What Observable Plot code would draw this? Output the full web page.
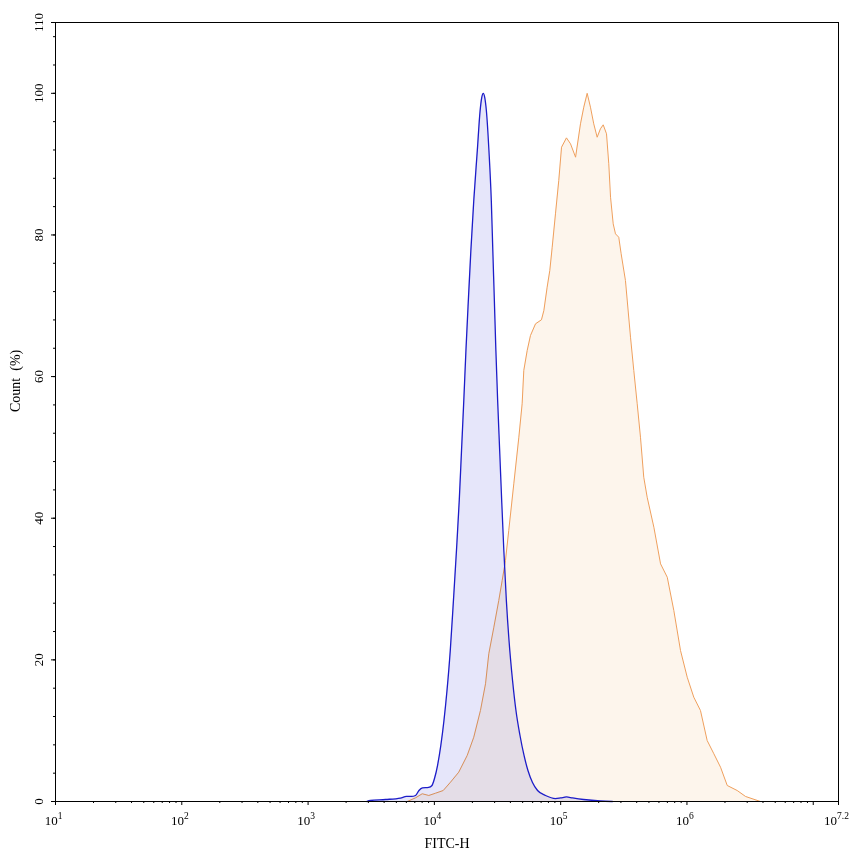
<!DOCTYPE html>
<html><head><meta charset="utf-8">
<script src="https://cdn.jsdelivr.net/npm/d3@7"></script>
<script src="https://cdn.jsdelivr.net/npm/@observablehq/plot@0.6"></script>
<style>body{margin:0;background:#fff}</style>
</head><body><div id="chart"></div>
<script>
// log10(FITC-H) positions and Count (%) for the two histograms
const blueExp = [3.463,3.494,3.613,3.732,3.779,3.819,3.851,3.878,3.906,3.954,3.981,4.001,4.025,4.051,4.076,4.100,4.126,4.151,4.175,4.197,4.215,4.233,4.250,4.269,4.289,4.312,4.340,4.362,4.375,4.387,4.399,4.412,4.432,4.451,4.463,4.475,4.487,4.501,4.517,4.533,4.550,4.570,4.591,4.619,4.646,4.678,4.710,4.741,4.777,4.817,4.880,4.959,4.999,5.046,5.094,5.181,5.315,5.41];
const blueCount = [0,0.14,0.28,0.49,0.71,0.71,0.85,1.55,1.91,1.98,2.26,3.25,5.08,7.91,11.44,15.67,21.32,28.38,35.44,42.5,49.56,56.62,63.68,70.74,77.8,84.86,91.92,97.5,99.4,100,99.4,97.5,91.92,84.72,77.66,70.74,63.68,56.62,49.56,42.5,35.44,28.38,22.73,17.09,12.85,9.32,6.5,4.38,2.68,1.55,0.85,0.42,0.5,0.64,0.5,0.28,0.07,0];
const orangeExp = [3.785,3.851,3.904,3.956,4.009,4.070,4.128,4.193,4.260,4.312,4.365,4.405,4.431,4.471,4.510,4.537,4.563,4.589,4.629,4.669,4.695,4.708,4.735,4.761,4.801,4.848,4.867,4.893,4.914,4.933,4.959,4.985,5.007,5.046,5.078,5.118,5.157,5.183,5.210,5.236,5.262,5.289,5.315,5.337,5.363,5.381,5.395,5.416,5.434,5.460,5.479,5.513,5.553,5.579,5.606,5.632,5.658,5.685,5.738,5.791,5.844,5.896,5.949,6.002,6.054,6.107,6.160,6.213,6.266,6.319,6.398,6.464,6.582];
const orangeCount = [0,0.52,1.09,0.85,1.17,1.55,2.73,4.14,6.5,9.08,12.85,16.62,20.86,24.61,28.38,31.21,34.03,38.27,44.86,51.44,56.16,60.86,63.68,65.8,67.45,68.02,69.33,72.62,74.98,78.27,82.98,87.69,92.39,93.71,92.87,90.98,95.69,98.04,100,98.04,95.69,93.8,94.99,95.55,94.28,90.05,85.33,81.57,80.16,79.68,77.34,73.57,65.56,60.86,56.16,51.44,45.79,42.97,38.73,33.56,31.67,26.97,21.32,17.55,14.73,12.85,8.61,6.74,4.84,2.26,1.55,0.71,0];

const xLabelExps = ["1","2","3","4","5","6","7.2"];
const xMajorExps = [1,2,3,4,5,6,7,7.2];
const xMinorMultipliers = [2,3,4,5,6,7,8,9];
const xMinorDecades = [1,2,3,4,5,6];
const yMajor = [0,20,40,60,80,100,110];
const yMinor = [0,4,8,12,16,20,24,28,32,36,40,44,48,52,56,60,64,68,72,76,80,84,88,92,96,100,104,108];
const xTitle = "FITC-H";
const yTitle = "Count\u00a0 (%)";

const blue = blueExp.map((e, i) => ({x: 10 ** e, y: blueCount[i]}));
const orange = orangeExp.map((e, i) => ({x: 10 ** e, y: orangeCount[i]}));
const xMajor = xMajorExps.map(e => 10 ** e);
const xMinor = xMinorDecades.flatMap(d => xMinorMultipliers.map(m => m * 10 ** d));

const font = "'Liberation Serif','Times New Roman',serif";

const svg = Plot.plot({
  width: 853, height: 856,
  marginLeft: 55, marginRight: 15, marginTop: 22, marginBottom: 55,
  style: {fontFamily: font, fontSize: "13px", color: "black", background: "white"},
  x: {type: "log", domain: [10, 10 ** 7.2]},
  y: {domain: [0, 110]},
  marks: [
    Plot.areaY(orange, {x: "x", y: "y", fill: "#fdf5ec"}),
    Plot.line(orange, {x: "x", y: "y", stroke: "#ef9f5c", strokeWidth: 1}),
    Plot.areaY(blue, {x: "x", y: "y", fill: "#e6e6fa", curve: "monotone-x", mixBlendMode: "multiply"}),
    Plot.line(blue, {x: "x", y: "y", stroke: "#1c1cc8", strokeWidth: 1.3, curve: "monotone-x"}),
    Plot.frame({stroke: "black"}),
    Plot.axisX(xMajor, {tickSize: 4, tickFormat: () => "", stroke: "black", label: null}),
    Plot.axisX(xMinor, {tickSize: 2, tickFormat: () => "", stroke: "black", label: null}),
    Plot.axisY(yMajor, {tickSize: 4, tickFormat: () => "", stroke: "black", label: null}),
    Plot.axisY(yMinor, {tickSize: 2, tickFormat: () => "", stroke: "black", label: null}),
    Plot.text(xLabelExps, {x: d => 10 ** (+d), text: d => "10^" + d, frameAnchor: "bottom", dy: 19, dx: -2, lineAnchor: "middle", fontSize: 13, fill: "black"}),
    Plot.text(yMajor, {y: d => d, text: d => String(d), frameAnchor: "left", dx: -17, rotate: -90, textAnchor: "middle", lineAnchor: "middle", fontSize: 13, fill: "black"}),
    Plot.text([xTitle], {text: d => d, frameAnchor: "bottom", dy: 42, lineAnchor: "middle", fontSize: 14, fill: "black"}),
    Plot.text([yTitle], {text: d => d, frameAnchor: "left", dx: -40, rotate: -90, lineAnchor: "middle", fontSize: 14, fill: "black"})
  ]
});

d3.select(svg).selectAll("text").each(function () {
  const s = this.textContent;
  if (!s.includes("^")) return;
  const [b, e] = s.split("^");
  this.textContent = "";
  const t = d3.select(this);
  t.append("tspan").text(b);
  t.append("tspan").attr("dy", "-6").attr("font-size", "9.5").text(e);
});

document.getElementById("chart").appendChild(svg);
</script>
</body></html>
